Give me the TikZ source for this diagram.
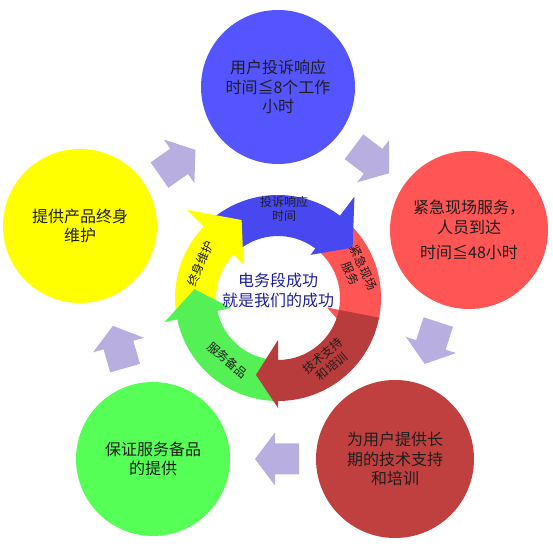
\documentclass[tikz,border=0pt]{standalone}
\usepackage{fontspec}
\newfontfamily\cjk{Noto Sans CJK SC}
\definecolor{cblue}{RGB}{85,85,255}
\definecolor{cred}{RGB}{255,85,85}
\definecolor{cyellow}{RGB}{255,255,0}
\definecolor{cgreen}{RGB}{85,255,85}
\definecolor{cdred}{RGB}{192,64,64}
\definecolor{rblue}{RGB}{72,72,240}
\definecolor{rred}{RGB}{255,85,85}
\definecolor{ryellow}{RGB}{255,255,0}
\definecolor{rgreen}{RGB}{85,240,85}
\definecolor{rdred}{RGB}{184,60,60}
\definecolor{lav}{RGB}{184,174,224}
\definecolor{txt}{RGB}{30,30,30}
\definecolor{navy}{RGB}{30,30,160}
% #1 colour, #2 tail angle, #3 head base angle, #4 tip angle,
% #5 outer barb radius, #6 inner barb radius, #7 tip radius
\newcommand\ringarrow[7]{%
  \fill[#1] (#2:103) arc[start angle=#2, end angle=#3, radius=103]
    -- (#3:#5) -- (#4:#7) -- (#3:#6) -- (#3:62)
    arc[start angle=#3, end angle=#2, radius=62] -- cycle;}
\begin{document}
\begin{tikzpicture}[x=1pt,y=1pt,
  bigc/.style={circle, inner sep=0pt, align=center, text=txt,
    font=\cjk\fontsize{16}{19.5}\selectfont},
  ringtxt/.style={inner sep=0pt, align=center, text=txt,
    font=\cjk\fontsize{12}{14}\selectfont},
  centertxt/.style={inner sep=0pt, align=center, text=navy,
    font=\cjk\fontsize{16}{20}\selectfont},
  lavarrow/.style={fill=lav}]
\useasboundingbox (0,0) rectangle (553,553);

% big circles
\node[bigc, fill=cblue, minimum size=154pt] (blue) at (278,466)
  {用户投诉响应\\时间≦8个工作\\小时};
\node[bigc, fill=cred, minimum size=158pt] (red) at (469,323)
  {紧急现场服务，\\人员到达\\[6pt]时间≦48小时};
\node[bigc, fill=cyellow, minimum size=154pt] (yellow) at (80,327)
  {提供产品终身\\维护};
\node[bigc, fill=cgreen, minimum size=154pt] (green) at (153,94)
  {保证服务备品\\的提供};
\node[bigc, fill=cdred, minimum size=158pt] (dred) at (395,94)
  {为用户提供长\\期的技术支持\\和培训};

% block arrows between circles
\foreach \px/\py/\ang in {177.5/390.5/35, 371.5/393/-37, 431.5/210/-108, 277/94/180, 119/206/106}{
  \fill[lavarrow, shift={(\px,\py)}, rotate=\ang]
    (-22,-15.5) -- (2,-15.5) -- (2,-26.5) -- (22,0) -- (2,26.5) -- (2,15.5) -- (-22,15.5) -- cycle;
}

% central ring of curved arrows
\begin{scope}[shift={(278,255)}]
  \ringarrow{rred}{52}{-11}{-28}{103}{50}{86}
  \ringarrow{rblue}{130}{53}{34}{127}{54}{90}
  \ringarrow{ryellow}{190}{136}{115}{127}{48}{86}
  \ringarrow{rgreen}{-92}{-168}{-186}{116}{48}{84}
  \ringarrow{rdred}{-11}{-90}{-106}{110}{42}{80}
  \node[ringtxt] (tblue) at (86:89) {投诉响应\\时间};
  \node[ringtxt, rotate=-66] (tred) at (19:84) {紧急现场\\服务};
  \node[ringtxt, rotate=40] (tdred) at (-52:80) {技术支持\\和培训};
  \node[ringtxt, rotate=-40] (tgreen) at (-129:80) {服务备品};
  \node[ringtxt, rotate=67] (tyellow) at (156:85) {终身维护};
\end{scope}

\node[centertxt] (center) at (278,263) {电务段成功\\就是我们的成功};
\end{tikzpicture}
\end{document}
